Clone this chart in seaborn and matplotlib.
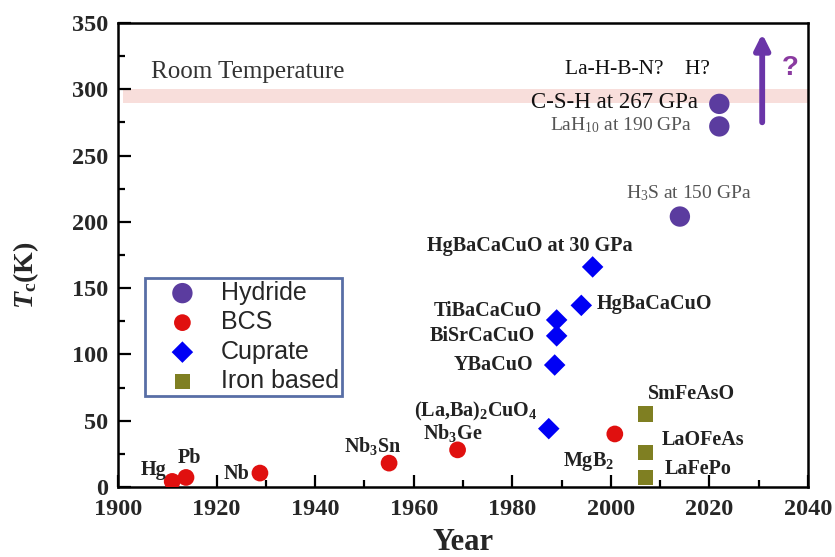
import pandas as pd
import matplotlib.pyplot as plt
import seaborn as sns

# Dados: ano de descoberta e Tc (K) por família de supercondutores
hydride_names = ['H$_3$S at 150 GPa', 'LaH$_{10}$ at 190 GPa', 'C-S-H at 267 GPa']
hydride_year = [2014, 2022, 2022]
hydride_tc = [204, 272, 289]

bcs_names = ['Hg', 'Pb', 'Nb', 'Nb$_3$Sn', 'Nb$_3$Ge', 'MgB$_2$']
bcs_year = [1911, 1913.8, 1928.8, 1955, 1968.9, 2000.8]
bcs_tc = [4.2, 7.2, 10.5, 18, 28, 40]

cuprate_names = ['(La{,}Ba)$_2$CuO$_4$', 'YBaCuO', 'BiSrCaCuO', 'TiBaCaCuO',
                 'HgBaCaCuO', 'HgBaCaCuO at 30 GPa']
cuprate_year = [1987.4, 1988.6, 1989, 1989, 1994, 1996.3]
cuprate_tc = [44, 92, 114, 126, 137, 166]

iron_names = ['SmFeAsO', 'LaOFeAs', 'LaFePo']
iron_year = [2007, 2007, 2007]
iron_tc = [55, 26, 7]

categorias = ['Hydride', 'BCS', 'Cuprate', 'Iron based']

df = pd.concat([
    pd.DataFrame({'Year': hydride_year, 'Tc': hydride_tc, 'Nome': hydride_names, 'Tipo': 'Hydride'}),
    pd.DataFrame({'Year': bcs_year, 'Tc': bcs_tc, 'Nome': bcs_names, 'Tipo': 'BCS'}),
    pd.DataFrame({'Year': cuprate_year, 'Tc': cuprate_tc, 'Nome': cuprate_names, 'Tipo': 'Cuprate'}),
    pd.DataFrame({'Year': iron_year, 'Tc': iron_tc, 'Nome': iron_names, 'Tipo': 'Iron based'}),
], ignore_index=True)

# Estilo visual
sns.set_style('ticks')
plt.rcParams['font.family'] = ['Liberation Serif', 'DejaVu Serif']
plt.rcParams['mathtext.fontset'] = 'custom'
plt.rcParams['mathtext.rm'] = 'Liberation Serif'
plt.rcParams['mathtext.it'] = 'Liberation Serif:italic'
plt.rcParams['mathtext.bf'] = 'Liberation Serif:bold'
plt.rcParams['mathtext.bfit'] = 'Liberation Serif:italic:bold'

cores = {'Hydride': '#5b3c9f', 'BCS': '#e0100f', 'Cuprate': '#0000f5', 'Iron based': '#7f7f22'}
marcadores = {'Hydride': 'o', 'BCS': 'o', 'Cuprate': 'D', 'Iron based': 's'}
tamanhos = {'Hydride': 215, 'BCS': 145, 'Cuprate': 120, 'Iron based': 125}

fig = plt.figure(figsize=(8.35, 5.57), dpi=100)
ax = fig.add_axes([0.1413, 0.1257, 0.8264, 0.8330])

# Faixa da temperatura ambiente
ax.axhspan(289.5, 300, xmin=0.007, xmax=1, color='#f8dedb', lw=0, zorder=0)
ax.text(1906.7, 313, 'Room Temperature', fontsize=18, color='#333333', va='center', ha='left')

for tipo in categorias:
    sub = df[df['Tipo'] == tipo]
    sns.scatterplot(data=sub, x='Year', y='Tc', ax=ax, color=cores[tipo], marker=marcadores[tipo],
                    s=tamanhos[tipo], edgecolor='none', label=tipo, zorder=3)

# Rótulos dos pontos (deslocamento em pontos)
offsets = {
    'Hg': (-4, 8, 'right'), 'Pb': (2.5, 13.7, 'center'), 'Nb': (-7.5, -0.7, 'right'),
    'Nb$_3$Sn': (-11.5, 12.5, 'center'), 'Nb$_3$Ge': (-3.4, 12.5, 'center'),
    'MgB$_2$': (-19, -20, 'center'),
    '(La{,}Ba)$_2$CuO$_4$': (-8, 12.5, 'right'), 'YBaCuO': (-15.5, 0, 'right'),
    'BiSrCaCuO': (-15.5, 0, 'right'), 'TiBaCaCuO': (-10.5, 6.5, 'right'),
    'HgBaCaCuO': (11, 1, 'left'), 'HgBaCaCuO at 30 GPa': (-45, 15, 'center'),
    'SmFeAsO': (2, 14.4, 'left'), 'LaOFeAs': (11.5, 9, 'left'), 'LaFePo': (13.7, 6, 'left'),
}
for _, r in df.iterrows():
    nome = r['Nome']
    if r['Tipo'] == 'Hydride':
        continue
    dx, dy, ha = offsets[nome]
    texto = nome
    if '_' in nome:
        texto = r'$\mathbf{' + nome.replace('$', '').replace(' ', r'\ ') + '}$'
    ax.annotate(texto, (r['Year'], r['Tc']), xytext=(dx, dy), textcoords='offset points',
                ha=ha, va='center', fontsize=14.5, fontweight='bold', color='#222222')

hid = df[df['Tipo'] == 'Hydride'].reset_index(drop=True)
ax.annotate(hid.loc[0, 'Nome'], (hid.loc[0, 'Year'], hid.loc[0, 'Tc']), xytext=(6.5, 17),
            textcoords='offset points', ha='center', va='center', fontsize=14, color='#555555')
ax.annotate(hid.loc[1, 'Nome'], (hid.loc[1, 'Year'], hid.loc[1, 'Tc']), xytext=(-19.5, 1),
            textcoords='offset points', ha='right', va='center', fontsize=14, color='#555555')
ax.annotate(hid.loc[2, 'Nome'], (hid.loc[2, 'Year'], hid.loc[2, 'Tc']), xytext=(-15, 0.7),
            textcoords='offset points', ha='right', va='center', fontsize=16.5, color='#111111')
ax.text(2005.3, 314.6, 'La-H-B-N?    H?', fontsize=15.5, ha='center', va='center', color='#111111')

# Seta e interrogação
ax.annotate('', xy=(2030.7, 344), xytext=(2030.7, 273),
            arrowprops=dict(arrowstyle='-|>,head_length=0.9,head_width=0.45', color='#6a35a8', lw=4.2))
ax.text(2036.3, 316, '?', fontsize=20, fontweight='bold', color='#8a3aa0', ha='center', va='center',
        family='Liberation Sans')

# Eixos
ax.set_xlim(1900, 2040)
ax.set_ylim(0, 350)
ax.set_xticks(range(1900, 2041, 20))
ax.set_xticks(range(1900, 2041, 10), minor=True)
ax.set_yticks(range(0, 351, 50))
ax.set_yticks(range(0, 351, 25), minor=True)
ax.tick_params(which='both', direction='in', top=False, right=False, width=1.6, color='black')
ax.tick_params(which='major', length=9, labelsize=17.5, pad=7)
ax.tick_params(axis='x', which='major', pad=9)
ax.tick_params(which='minor', length=5)
for lab in ax.get_xticklabels() + ax.get_yticklabels():
    lab.set_fontweight('bold')
for s in ax.spines.values():
    s.set_linewidth(1.8)
    s.set_color('black')

ax.set_xlabel('Year', fontsize=22, fontweight='bold')
ax.xaxis.set_label_coords(0.5, -0.088)
ax.set_ylabel(r'$\mathbfit{T}_{\mathbf{c}}\mathbf{(K)}$', fontsize=20)
ax.yaxis.set_label_coords(-0.112, 0.457)

leg = ax.legend(loc='upper left', bbox_to_anchor=(0.039, 0.450), borderaxespad=0,
                prop={'family': 'Liberation Sans', 'size': 18}, frameon=True, fancybox=False,
                handlelength=2.8, handletextpad=0.15, labelspacing=0.22, borderpad=0.1)
leg.get_frame().set_edgecolor('#2e4a90')
leg.get_frame().set_linewidth(2)

plt.savefig('out.png', dpi=100)
